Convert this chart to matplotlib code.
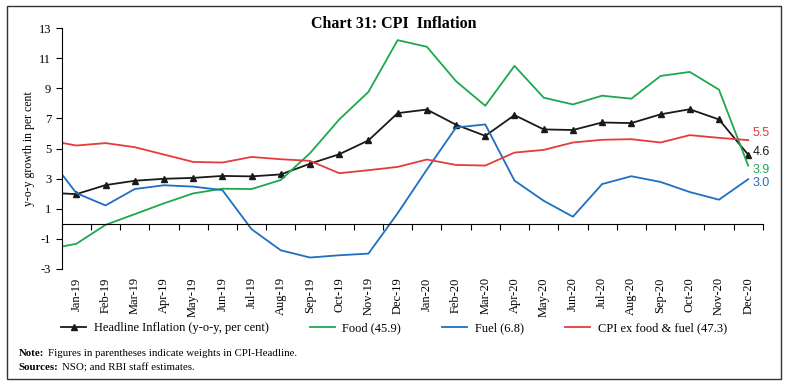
import matplotlib.pyplot as plt
import numpy as np

# Dec-18 is kept as the first point: the chart starts its lines at the axis edge
months = ['Dec-18', 'Jan-19', 'Feb-19', 'Mar-19', 'Apr-19', 'May-19', 'Jun-19',
          'Jul-19', 'Aug-19', 'Sep-19', 'Oct-19', 'Nov-19', 'Dec-19',
          'Jan-20', 'Feb-20', 'Mar-20', 'Apr-20', 'May-20', 'Jun-20',
          'Jul-20', 'Aug-20', 'Sep-20', 'Oct-20', 'Nov-20', 'Dec-20']

headline = [2.07, 1.97, 2.57, 2.86, 2.99, 3.05, 3.18, 3.15, 3.28, 3.99, 4.62,
            5.54, 7.35, 7.59, 6.58, 5.84, 7.22, 6.27, 6.23, 6.73, 6.69, 7.27,
            7.61, 6.93, 4.59]
food = [-1.69, -1.33, -0.07, 0.64, 1.36, 2.02, 2.33, 2.31, 2.91, 4.69, 6.93,
        8.76, 12.2, 11.76, 9.47, 7.84, 10.49, 8.38, 7.93, 8.51, 8.31, 9.82,
        10.09, 8.91, 3.87]
fuel = [4.58, 2.04, 1.22, 2.31, 2.56, 2.47, 2.24, -0.36, -1.76, -2.24, -2.09,
        -1.98, 0.7, 3.6, 6.4, 6.6, 2.87, 1.53, 0.47, 2.64, 3.16, 2.78, 2.11,
        1.6, 2.96]
core = [5.56, 5.2, 5.36, 5.09, 4.6, 4.11, 4.07, 4.44, 4.29, 4.18, 3.36, 3.56,
        3.78, 4.27, 3.91, 3.87, 4.73, 4.91, 5.4, 5.58, 5.62, 5.4, 5.89, 5.71,
        5.56]

end_labels = ['4.6', '3.9', '3.0', '5.5']

c_black = '#1a1a1a'
c_green = '#1ea84e'
c_blue = '#1f6fc1'
c_red = '#e63b3b'

plt.rcParams['font.family'] = ['Liberation Serif', 'DejaVu Serif']
plt.rcParams['axes.unicode_minus'] = False

fig = plt.figure(figsize=(7.88, 3.87), dpi=100)
ax = fig.add_axes([0.0783, 0.305, 0.8897, 0.6224])

x = np.arange(len(months)) - 0.5

ax.plot(x, headline, color=c_black, lw=1.3, marker='^', ms=5,
        label='Headline Inflation (y-o-y, per cent)')
ax.plot(x, food, color=c_green, lw=1.3, label='Food (45.9)')
ax.plot(x, fuel, color=c_blue, lw=1.3, label='Fuel (6.8)')
ax.plot(x, core, color=c_red, lw=1.3, label='CPI ex food & fuel (47.3)')

# value labels at the last month
last = x[-1]
for val, txt, col, dy in [(headline[-1], end_labels[0], c_black, 2),
                          (food[-1], end_labels[1], c_green, -3),
                          (fuel[-1], end_labels[2], c_blue, -3),
                          (core[-1], end_labels[3], c_red, 5)]:
    ax.annotate(txt, (last, val), xytext=(3, dy), textcoords='offset points',
                color=col, fontsize=9, family='Liberation Sans', va='center',
                annotation_clip=False)

ax.set_xlim(0, 24)
ax.set_ylim(-3, 13)
ax.set_yticks(np.arange(-3, 14, 2))
ax.tick_params(axis='y', labelsize=9, length=4, width=0.8)

ax.spines['top'].set_visible(False)
ax.spines['right'].set_visible(False)
ax.spines['bottom'].set_position(('data', 0))
ax.set_xticks(np.arange(0, 25))
ax.tick_params(axis='x', length=4, width=0.8, labelbottom=False)

# month names sit under the plot, not on the zero line
sec = ax.secondary_xaxis('bottom')
sec.set_xticks(x[1:], months[1:], rotation=90)
sec.tick_params(length=0, labelsize=9, pad=6)
sec.spines['bottom'].set_visible(False)

ax.set_ylabel('y-o-y growth in per cent', fontsize=8.5, labelpad=3)

fig.suptitle('Chart 31: CPI  Inflation', fontsize=11.5, fontweight='bold',
             y=0.958)

fig.legend(loc='center', bbox_to_anchor=(0.5, 0.152), ncol=4, frameon=False,
           fontsize=9, handlelength=2.0, columnspacing=3.3, handletextpad=0.6)

# footnotes: bold lead word, plain text after it
notes = [('Note:', 'Figures in parentheses indicate weights in CPI-Headline.', 0.08),
         ('Sources:', 'NSO; and RBI staff estimates.', 0.043)]
for head, body, ypos in notes:
    t = fig.text(0.024, ypos, head, fontsize=7.8, fontweight='bold')
    fig.add_artist(plt.Annotation(body, xy=(1, 0), xycoords=t,
                                  xytext=(2.5, 0), textcoords='offset points',
                                  fontsize=7.8, va='bottom'))

fig.patches.append(plt.Rectangle((0.009, 0.02), 0.982, 0.965, fill=False,
                                 edgecolor='#333333', lw=1,
                                 transform=fig.transFigure))

fig.savefig('out.png', dpi=100)
